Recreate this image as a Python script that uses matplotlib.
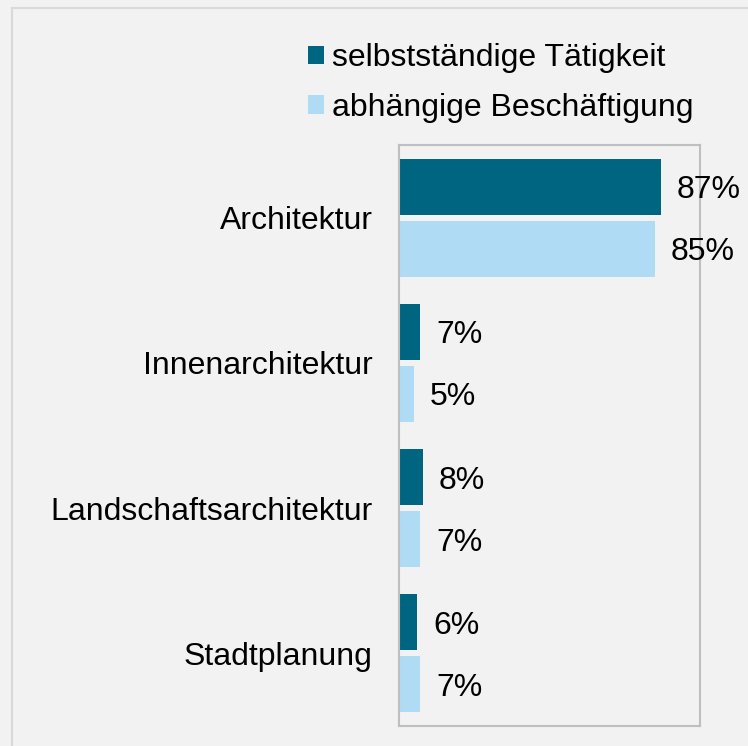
import matplotlib.pyplot as plt
from matplotlib.patches import Rectangle, Patch

plt.rcParams['font.family'] = ['Liberation Sans', 'DejaVu Sans']

categories = ['Architektur', 'Innenarchitektur', 'Landschaftsarchitektur', 'Stadtplanung']
selbststaendig = [87, 7, 8, 6]
abhaengig = [85, 5, 7, 7]
series_names = ['selbstständige Tätigkeit', 'abhängige Beschäftigung']

dark = '#006580'
light = '#afdcf4'
bg = '#f2f2f2'

fig = plt.figure(figsize=(7.48, 7.46), dpi=100, facecolor=bg)
fig.patches.append(Rectangle((12 / 748, -0.1), 1.0, 1 - 8 / 746 + 0.1,
                             transform=fig.transFigure, facecolor='none',
                             edgecolor='#d9d9d9', linewidth=1.5))

ax = fig.add_axes([399 / 748, 20 / 746, 301 / 748, 581 / 746])
ax.set_facecolor(bg)

y = list(range(len(categories)))
h = 0.386
off = 0.214
b1 = ax.barh([v - off for v in y], selbststaendig, height=h, color=dark)
b2 = ax.barh([v + off for v in y], abhaengig, height=h, color=light)

for bars, vals in ((b1, selbststaendig), (b2, abhaengig)):
    for bar, v in zip(bars, vals):
        ax.annotate(f'{v}%', (bar.get_width(), bar.get_y() + bar.get_height() / 2),
                    xytext=(11.5, -2.5), textcoords='offset points',
                    va='center', ha='left', fontsize=23, color='black',
                    annotation_clip=False)

ax.set_xlim(0, 100)
ax.set_ylim(3.5, -0.5)
ax.set_xticks([])
ax.set_yticks(y)
ax.set_yticklabels(categories, fontsize=23)
ax.tick_params(axis='y', length=0, pad=19)
for s in ax.spines.values():
    s.set_color('#bfbfbf')
    s.set_linewidth(1.5)

handles = [Patch(facecolor=dark), Patch(facecolor=light)]
fig.legend(handles, series_names, loc='upper left',
           bbox_to_anchor=(308 / 748, 1 - 43 / 746), frameon=False,
           fontsize=23, handlelength=0.5, handleheight=0.5,
           handletextpad=0.25, labelspacing=0.62, borderpad=0,
           borderaxespad=0)

fig.savefig('out.png', dpi=100, facecolor=bg)
